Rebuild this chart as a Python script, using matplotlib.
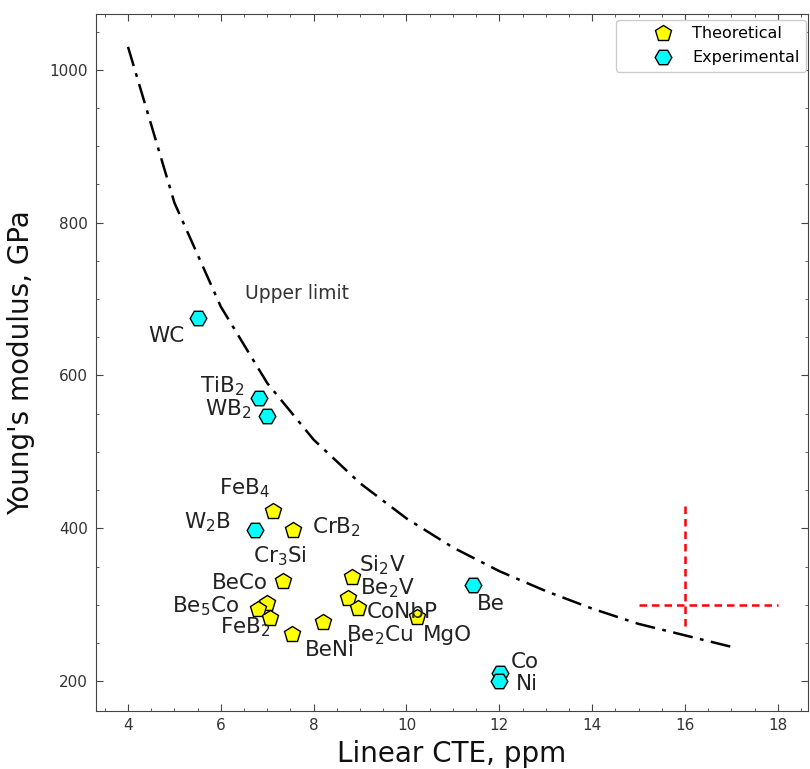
import matplotlib
matplotlib.use("Agg")
import matplotlib.pyplot as plt
from matplotlib.ticker import AutoMinorLocator

# theoretical compounds (pentagons)
theo_names = ["FeB$_4$", "CrB$_2$", "Cr$_3$Si", "BeCo", "Be$_5$Co", "FeB$_2$",
              "BeNi", "Be$_2$Cu", "Si$_2$V", "Be$_2$V", "CoNbP", "MgO"]
theo_cte = [7.12, 7.55, 7.34, 6.99, 6.80, 7.06, 7.53, 8.20, 8.82, 8.74, 8.95, 10.22]
theo_mod = [423, 398, 331, 302, 294, 283, 262, 277, 336, 309, 296, 284]

# experimental materials (hexagons)
exp_names = ["WC", "TiB$_2$", "WB$_2$", "W$_2$B", "Be", "Co", "Ni"]
exp_cte = [5.51, 6.82, 7.00, 6.74, 11.43, 12.01, 12.00]
exp_mod = [675, 571, 547, 398, 326, 211, 200]

# upper limit curve
limit_cte = [4, 5, 6, 7, 8, 9, 10, 11, 12, 13, 14, 15, 16, 17]
limit_mod = [1030, 826, 690, 590, 516, 459, 413, 375, 344, 318, 295, 275, 260, 245]

# typical uncertainty cross
err_cte, err_mod = 16, 300
err_cte_lo, err_cte_hi = 1, 2
err_mod_lo, err_mod_hi = 28, 132

# where each name goes (data coords, text centre)
theo_label_xy = [(6.52, 452), (8.50, 402), (7.27, 364), (6.41, 329), (5.68, 298),
                 (6.52, 271), (8.35, 241), (9.42, 260), (9.47, 352), (9.58, 322),
                 (9.90, 291), (10.88, 260)]
exp_label_xy = [(4.82, 652), (6.02, 586), (6.15, 556), (5.72, 408), (11.82, 301),
                (12.55, 225), (12.60, 196)]

fig = plt.figure(figsize=(8.10, 7.69), dpi=100)
ax = fig.add_axes([0.1185, 0.0754, 0.879, 0.9064])

ax.plot(limit_cte, limit_mod, color="black", linestyle="-.", linewidth=1.8,
        dashes=(8, 3, 1.5, 3))
ax.text(7.64, 707, "Upper limit", fontsize=13.5, color="#333333",
        ha="center", va="center")

eb = ax.errorbar(err_cte, err_mod,
                 xerr=[[err_cte_lo], [err_cte_hi]],
                 yerr=[[err_mod_lo], [err_mod_hi]],
                 fmt="none", ecolor="red", elinewidth=1.8, capsize=0)
eb[2][0].set_linestyle((0, (3, 2)))
eb[2][1].set_linestyle((0, (3, 2)))

ax.plot(theo_cte, theo_mod, linestyle="none", marker="p", markersize=12,
        markerfacecolor="yellow", markeredgecolor="black", markeredgewidth=1.0,
        label="Theoretical", zorder=3)
ax.plot(exp_cte, exp_mod, linestyle="none", marker="H", markersize=12,
        markerfacecolor="cyan", markeredgecolor="black", markeredgewidth=1.0,
        label="Experimental", zorder=3)

for name, (tx, ty) in zip(theo_names, theo_label_xy):
    ax.text(tx, ty, name, fontsize=15.5, color="#222222", ha="center", va="center")
for name, (tx, ty) in zip(exp_names, exp_label_xy):
    ax.text(tx, ty, name, fontsize=15.5, color="#222222", ha="center", va="center")

ax.set_xlim(3.31, 18.65)
ax.set_ylim(161, 1073)
ax.set_xticks([4, 6, 8, 10, 12, 14, 16, 18])
ax.set_yticks([200, 400, 600, 800, 1000])
ax.xaxis.set_minor_locator(AutoMinorLocator(4))
ax.yaxis.set_minor_locator(AutoMinorLocator(4))
ax.tick_params(which="both", direction="in", top=True, right=True,
               labelsize=11, labelcolor="#333333", color="#444444")
ax.tick_params(which="major", length=5)
ax.tick_params(which="minor", length=2.5)
ax.tick_params(axis="x", pad=5)
ax.tick_params(axis="y", pad=6)
for s in ax.spines.values():
    s.set_color("#444444")

ax.set_xlabel("Linear CTE, ppm", fontsize=20, color="#111111", labelpad=5)
ax.set_ylabel("Young's modulus, GPa", fontsize=20, color="#111111", labelpad=10)

ax.legend(loc="upper right", bbox_to_anchor=(710 / 712, 1 - 6 / 697),
          borderaxespad=0, fontsize=11.5, handlelength=5.1, handletextpad=-0.7,
          labelspacing=0.55, framealpha=1.0)

fig.savefig("out.png", dpi=100)
